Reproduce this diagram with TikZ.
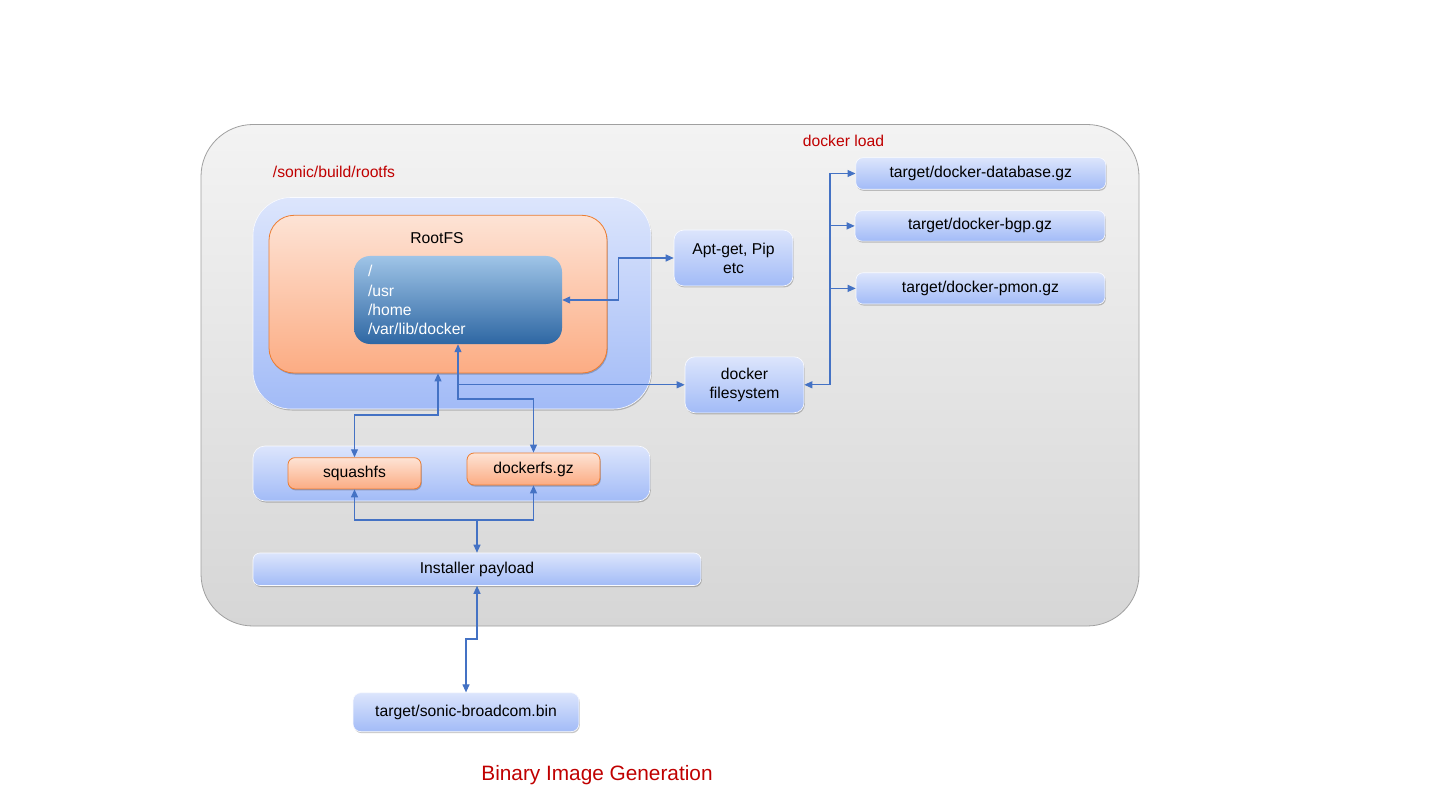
\documentclass[tikz,border=0pt]{standalone}
\usepackage{fontspec}
\setmainfont{Liberation Sans}
\usetikzlibrary{arrows.meta,shadows,calc}
\definecolor{conncol}{HTML}{4472C4}
\definecolor{redtxt}{HTML}{C00000}
\definecolor{graytop}{HTML}{F3F3F3}
\definecolor{graybot}{HTML}{D6D6D6}
\definecolor{graybd}{HTML}{A0A0A0}
\definecolor{bluetop}{HTML}{DCE5FC}
\definecolor{bluebot}{HTML}{A2BBF7}
\definecolor{orgtop}{HTML}{FDE3D5}
\definecolor{orgbot}{HTML}{FCAC83}
\definecolor{orgbd}{HTML}{ED7D31}
\definecolor{deeptop}{HTML}{9FC4E7}
\definecolor{deepbot}{HTML}{2E67A3}
\tikzset{
  shadowed/.style={drop shadow={shadow xshift=0.8pt,shadow yshift=-1.5pt,opacity=0.22,fill=black}},
  outerbox/.style={draw=graybd,line width=0.8pt,top color=graytop,bottom color=graybot,rounded corners=52pt,inner sep=0pt},
  bluebox/.style={draw=white!85!bluetop,line width=0.6pt,top color=bluetop,bottom color=bluebot,inner sep=0pt,align=center,shadowed},
  orgbox/.style={draw=orgbd,line width=0.8pt,top color=orgtop,bottom color=orgbot,inner sep=0pt,align=center,shadowed},
  deepbox/.style={top color=deeptop,bottom color=deepbot,rounded corners=16pt,inner sep=0pt,text=white,align=left},
  redlabel/.style={text=redtxt,inner sep=0pt},
  conn/.style={draw=conncol,line width=1.1pt,arrows={-},>={Triangle[length=8pt,width=7pt]}},
}
\begin{document}
\begin{tikzpicture}[x=1pt,y=-1pt,font=\fontsize{15.7}{19.2}\selectfont]
\useasboundingbox[fill=white] (0,0) rectangle (1440,810);

% containers
\node[outerbox,minimum width=938pt,minimum height=501.5pt] (outer) at (670,375.25) {};
\node[bluebox,rounded corners=38pt,minimum width=398pt,minimum height=211.5pt] (blueA) at (452,303.25) {};
\node[orgbox,rounded corners=25pt,minimum width=338pt,minimum height=157.7pt] (rootfs) at (438,294.15) {};
\node[inner sep=0pt] (rootfslabel) at (437,238) {RootFS};
\node[deepbox,minimum width=208pt,minimum height=88pt,text width=180pt] (inner) at (458,300) {/\\/usr\\/home\\/var/lib/docker};

\node[bluebox,rounded corners=12pt,minimum width=397pt,minimum height=55pt] (blueB) at (451.5,473.5) {};
\node[orgbox,rounded corners=7pt,minimum width=133pt,minimum height=31.3pt] (squash) at (354.5,473.3) {squashfs};
\node[orgbox,rounded corners=7pt,minimum width=133pt,minimum height=32pt] (dockgz) at (533.5,469) {dockerfs.gz};

\node[bluebox,rounded corners=7pt,minimum width=448pt,minimum height=32.5pt] (installer) at (477,569.25) {Installer payload};
\node[bluebox,rounded corners=8pt,minimum width=226pt,minimum height=39pt] (sonic) at (466,712.2) {target/sonic-broadcom.bin};

\node[bluebox,rounded corners=10pt,minimum width=119pt,minimum height=56pt] (apt) at (733.5,258) {Apt-get, Pip\\etc};
\node[bluebox,rounded corners=10pt,minimum width=119pt,minimum height=56pt] (dfs) at (744.5,384.8) {docker\\filesystem};

\node[bluebox,rounded corners=7pt,minimum width=250pt,minimum height=31.6pt] (db) at (980.8,173.5) {target/docker-database.gz};
\node[bluebox,rounded corners=7pt,minimum width=250pt,minimum height=30.5pt] (bgp) at (980,225.9) {target/docker-bgp.gz};
\node[bluebox,rounded corners=7pt,minimum width=249pt,minimum height=31.3pt] (pmon) at (980.5,288.4) {target/docker-pmon.gz};

% red labels
\node[redlabel,anchor=west] (rootpath) at (272.7,171.7) {/sonic/build/rootfs};
\node[redlabel,anchor=west] (dload) at (802.7,140.7) {docker load};
\node[redlabel,font=\fontsize{20.8}{24}\selectfont] (title) at (597,775) {Binary Image Generation};

% connectors
\draw[conn,<->] (inner.east) -- ++(56,0) |- (apt.west);
\draw[conn,<->] (inner.south) -- (inner.south |- 0,399) -| (dockgz.north);
\draw[conn,->] (inner.south |- dfs.west) -- (dfs.west);
\draw[conn,<->] (rootfs.south) -- (rootfs.south |- 0,415) -| (squash.north);

\coordinate (j) at (installer.north |- 0,520);
\draw[conn,<-] (squash.south) |- (j);
\draw[conn,<-] (dockgz.south) |- (j);
\draw[conn,->] (j) -- (installer.north);

\draw[conn,<->] (installer.south) -- (installer.south |- 0,639) -| (sonic.north);

\coordinate (bx) at (830,0);
\draw[conn,<->] (dfs.east) -| (bx |- db.west) -- (db.west);
\draw[conn,->] (bx |- bgp.west) -- (bgp.west);
\draw[conn,->] (bx |- pmon.west) -- (pmon.west);
\end{tikzpicture}
\end{document}
